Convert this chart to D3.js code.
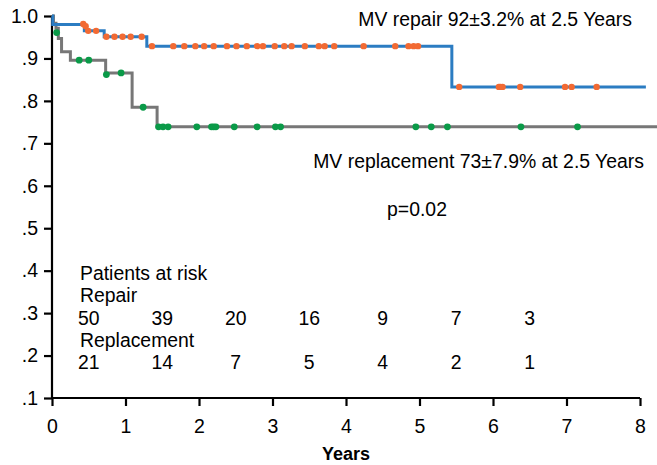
<!DOCTYPE html>
<html>
<head>
<meta charset="utf-8">
<script src="https://cdn.jsdelivr.net/npm/d3@7"></script>
<style>
  html, body { margin: 0; padding: 0; background: #fff; }
  svg { display: block; font-family: "Liberation Sans", Arial, Helvetica, sans-serif; }
</style>
</head>
<body>
<svg id="chart" width="657" height="465"></svg>
<script>
// Kaplan-Meier steps: [years, survival]
const repairSteps = [[0, 1.0], [0.01, 0.980], [0.44, 0.965], [0.71, 0.951], [1.29, 0.929], [5.44, 0.833], [8.08, 0.833]];
const replacementSteps = [[0, 1.0], [0.02, 0.983], [0.054, 0.971], [0.086, 0.947], [0.13, 0.916], [0.25, 0.896],
  [0.73, 0.866], [1.09, 0.785], [1.43, 0.739], [8.3, 0.739]];

// censored patients (ticks on the curves)
const repairCensored = [[0.425, 0.981], [0.458, 0.976], [0.493, 0.965], [0.60, 0.965],
  [0.74, 0.951], [0.85, 0.951], [0.96, 0.951], [1.07, 0.951], [1.22, 0.951],
  [1.36, 0.929], [1.65, 0.929], [1.80, 0.929], [1.95, 0.929], [2.07, 0.929], [2.20, 0.929], [2.38, 0.929],
  [2.51, 0.929], [2.65, 0.929], [2.79, 0.929], [2.87, 0.929], [3.03, 0.929], [3.16, 0.929], [3.26, 0.929],
  [3.44, 0.929], [3.63, 0.929], [3.71, 0.929], [3.84, 0.929], [4.24, 0.929], [4.67, 0.929], [4.85, 0.929],
  [4.92, 0.929], [4.98, 0.929],
  [5.54, 0.833], [6.08, 0.833], [6.10, 0.833], [6.13, 0.833], [6.37, 0.833], [6.98, 0.833], [7.07, 0.833], [7.41, 0.833]];
const replacementCensored = [[0.063, 0.961], [0.37, 0.896], [0.50, 0.896], [0.74, 0.862], [0.94, 0.866],
  [1.24, 0.785], [1.45, 0.739], [1.51, 0.739], [1.58, 0.739], [1.97, 0.739], [2.17, 0.739], [2.20, 0.739],
  [2.23, 0.739], [2.48, 0.739], [2.79, 0.739], [3.04, 0.739], [3.11, 0.739], [4.95, 0.739], [5.16, 0.739],
  [5.38, 0.739], [6.38, 0.739], [7.15, 0.739]];

const xTicks = [0, 1, 2, 3, 4, 5, 6, 7, 8];
const yTicks = [1.0, 0.9, 0.8, 0.7, 0.6, 0.5, 0.4, 0.3, 0.2, 0.1];

// numbers at risk, centred in each year interval
const riskTimes = [0.5, 1.5, 2.5, 3.5, 4.5, 5.5, 6.5];
const riskRepair = [50, 39, 20, 16, 9, 7, 3];
const riskReplacement = [21, 14, 7, 5, 4, 2, 1];

const labelRepair = "MV repair 92\u00b13.2% at 2.5 Years";
const labelReplacement = "MV replacement 73\u00b17.9% at 2.5 Years";
const labelP = "p=0.02";

const svg = d3.select("#chart");
const fs = 19.4;

const x = d3.scaleLinear().domain([0, 8]).range([52, 640]);
const y = d3.scaleLinear().domain([0.1, 1.0]).range([398, 16]);

// axes
const xAxis = svg.append("g").attr("transform", `translate(0,${y(0.1)})`)
  .call(d3.axisBottom(x).tickValues(xTicks).tickSize(8).tickPadding(13).tickFormat(d3.format("d")));
const yAxis = svg.append("g").attr("transform", `translate(${x(0)},0)`)
  .call(d3.axisLeft(y).tickValues(yTicks).tickSize(8).tickPadding(6)
    .tickFormat(d => d === 1 ? "1.0" : d3.format(".1f")(d).replace(/^0/, "")));

[xAxis, yAxis].forEach(g => {
  g.select(".domain").attr("stroke", "#000").attr("stroke-width", 2.2)
    .attr("d", g === xAxis ? `M${x(0)},0H${x(8)}` : `M0,${y(0.1)}V${y(1.0)}`);
  g.selectAll(".tick line").attr("stroke", "#000").attr("stroke-width", 2.2);
  g.selectAll(".tick text").attr("fill", "#000").style("font-size", "19.5px")
    .style("font-family", "'Liberation Sans', Arial, sans-serif");
});

svg.append("text")
  .attr("x", (x(0) + x(8)) / 2).attr("y", 460)
  .attr("text-anchor", "middle").style("font-size", "18px").style("font-weight", "bold")
  .text("Years");

// survival curves
const line = d3.line().x(d => x(d[0])).y(d => y(d[1])).curve(d3.curveStepAfter);

svg.append("path").datum(replacementSteps)
  .attr("d", line).attr("fill", "none").attr("stroke", "#777777").attr("stroke-width", 3);
svg.append("path").datum(repairSteps)
  .attr("d", line).attr("fill", "none").attr("stroke", "#2b7cc2").attr("stroke-width", 3);

svg.append("g").selectAll("circle").data(replacementCensored).join("circle")
  .attr("cx", d => x(d[0])).attr("cy", d => y(d[1])).attr("r", 3.4).attr("fill", "#0a9a48");
svg.append("g").selectAll("circle").data(repairCensored).join("circle")
  .attr("cx", d => x(d[0])).attr("cy", d => y(d[1])).attr("r", 3.2).attr("fill", "#f26a33");

// annotations
svg.append("text").attr("x", 632).attr("y", 26).attr("text-anchor", "end")
  .style("font-size", fs + "px").text(labelRepair);
svg.append("text").attr("x", 644).attr("y", 168).attr("text-anchor", "end")
  .style("font-size", fs + "px").text(labelReplacement);
svg.append("text").attr("x", 417).attr("y", 216).attr("text-anchor", "middle")
  .style("font-size", fs + "px").text(labelP);

// patients at risk table
const tbl = svg.append("g").style("font-size", fs + "px");
tbl.append("text").attr("x", 80).attr("y", 280).text("Patients at risk");
tbl.append("text").attr("x", 80).attr("y", 302).text("Repair");
tbl.append("text").attr("x", 80).attr("y", 347).text("Replacement");
tbl.selectAll("text.r1").data(riskRepair).join("text").attr("class", "r1")
  .attr("x", (d, i) => x(riskTimes[i])).attr("y", 325).attr("text-anchor", "middle").text(d => d);
tbl.selectAll("text.r2").data(riskReplacement).join("text").attr("class", "r2")
  .attr("x", (d, i) => x(riskTimes[i])).attr("y", 369).attr("text-anchor", "middle").text(d => d);
</script>
</body>
</html>
